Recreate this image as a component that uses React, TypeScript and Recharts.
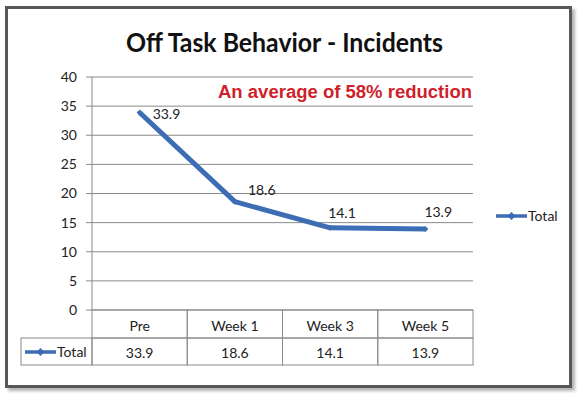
import { LineChart, Line, XAxis, YAxis, CartesianGrid } from "recharts";

const categories = ["Pre", "Week 1", "Week 3", "Week 5"];
const totals = [33.9, 18.6, 14.1, 13.9];
const yTicks = [0, 5, 10, 15, 20, 25, 30, 35, 40];
const seriesName = "Total";
const title = "Off Task Behavior - Incidents";
const note = "An average of 58% reduction";

const data = categories.map((name, i) => ({ name, total: totals[i] }));

const W = 582;
const H = 396;
const PLOT_L = 92;
const PLOT_R = 473;
const PLOT_T = 77;
const PLOT_B = 310;
const BAND = (PLOT_R - PLOT_L) / categories.length;
const Y_AXIS_W = 40;
const X_AXIS_H = 56;
const ROW1 = 28;
const ROW2 = 27;
const BLUE = "#3d6db4";
const GRID = "#8a8a8a";
const FONT = "Lato, 'Open Sans', sans-serif";

// label placement per point: [dx from point, baseline dy from point]
const labelOffsets = [
  [13, 6],
  [13, -7],
  [-2, -10],
  [-1, -12],
];

function Diamond({ cx, cy, r, color }: { cx: number; cy: number; r: number; color: string }) {
  return (
    <path
      d={`M${cx},${cy - r}L${cx + r},${cy}L${cx},${cy + r}L${cx - r},${cy}Z`}
      fill={color}
    />
  );
}

function LegendKey({ x, y }: { x: number; y: number }) {
  return (
    <g>
      <line x1={x} y1={y} x2={x + 31} y2={y} stroke={BLUE} strokeWidth={3.5} />
      <Diamond cx={x + 15.5} cy={y} r={4} color={BLUE} />
    </g>
  );
}

function TableTick(props: any) {
  const { x, y, payload, index } = props;
  const left = x - BAND / 2;
  return (
    <g>
      <rect x={left} y={y} width={BAND} height={ROW1} fill="none" stroke={GRID} />
      <rect x={left} y={y + ROW1} width={BAND} height={ROW2} fill="none" stroke={GRID} />
      <text x={x} y={y + 21} textAnchor="middle" fontFamily={FONT} fontSize={14} fill="#222">
        {payload.value}
      </text>
      <text x={x} y={y + ROW1 + 20} textAnchor="middle" fontFamily={FONT} fontSize={14} fill="#222">
        {totals[index]}
      </text>
      {index === 0 && (
        <g>
          <rect x={left - 71} y={y + ROW1} width={71} height={ROW2} fill="none" stroke={GRID} />
          <LegendKey x={left - 67} y={y + ROW1 + 14} />
          <text x={left - 35} y={y + ROW1 + 19} fontFamily={FONT} fontSize={14} fill="#222">
            {seriesName}
          </text>
        </g>
      )}
    </g>
  );
}

function PointLabel(props: any) {
  const { x, y, value, index } = props;
  const [dx, dy] = labelOffsets[index] || [10, -8];
  return (
    <text x={x + dx} y={y + dy} fontFamily={FONT} fontSize={14} fill="#222">
      {value}
    </text>
  );
}

function PointDot(props: any) {
  const { cx, cy, index } = props;
  return <Diamond key={`dot-${index}`} cx={cx} cy={cy} r={3} color={BLUE} />;
}

export default function App() {
  return (
    <div style={{ position: "absolute", left: 0, top: 0, width: W, height: H, background: "#fff" }}>
      <div
        style={{
          position: "absolute",
          left: 5,
          top: 6,
          width: 567,
          height: 382,
          boxSizing: "border-box",
          border: "3px solid #575757",
          boxShadow: "3px 3px 3px rgba(0,0,0,0.3)",
          background: "#fff",
        }}
      />
      <div style={{ position: "absolute", left: 0, top: 0 }}>
        <LineChart
          width={W}
          height={H}
          data={data}
          margin={{
            top: PLOT_T,
            right: W - PLOT_R,
            bottom: H - PLOT_B - X_AXIS_H,
            left: PLOT_L - Y_AXIS_W,
          }}
        >
          <CartesianGrid vertical={false} stroke={GRID} />
          <XAxis
            dataKey="name"
            interval={0}
            height={X_AXIS_H}
            padding={{ left: BAND / 2, right: BAND / 2 }}
            axisLine={false}
            tickLine={false}
            tickSize={0}
            tickMargin={0}
            tick={<TableTick />}
          />
          <YAxis
            width={Y_AXIS_W}
            domain={[0, 40]}
            ticks={yTicks}
            interval={0}
            axisLine={{ stroke: GRID }}
            tickLine={{ stroke: GRID }}
            tickSize={6}
            tickMargin={9}
            tick={{ fill: "#222", fontSize: 14, fontFamily: FONT }}
          />
          <Line
            dataKey="total"
            name={seriesName}
            stroke={BLUE}
            strokeWidth={5}
            strokeLinejoin="round"
            dot={PointDot}
            activeDot={false}
            label={PointLabel}
            isAnimationActive={false}
          />
        </LineChart>
      </div>
      <svg
        width={W}
        height={H}
        style={{ position: "absolute", left: 0, top: 0, pointerEvents: "none" }}
      >
        <text
          x={284.5}
          y={52}
          textAnchor="middle"
          fontFamily={FONT}
          fontWeight={700}
          fontSize={27}
          textLength={317}
          lengthAdjust="spacingAndGlyphs"
          fill="#111"
        >
          {title}
        </text>
        <text
          x={218}
          y={98}
          fontFamily="'Liberation Sans', Arial, sans-serif"
          fontWeight={700}
          fontSize={18}
          textLength={254}
          lengthAdjust="spacingAndGlyphs"
          fill="#cf1f2c"
        >
          {note}
        </text>
        <LegendKey x={496} y={216} />
        <text x={528} y={221} fontFamily={FONT} fontSize={14} fill="#222">
          {seriesName}
        </text>
      </svg>
    </div>
  );
}
